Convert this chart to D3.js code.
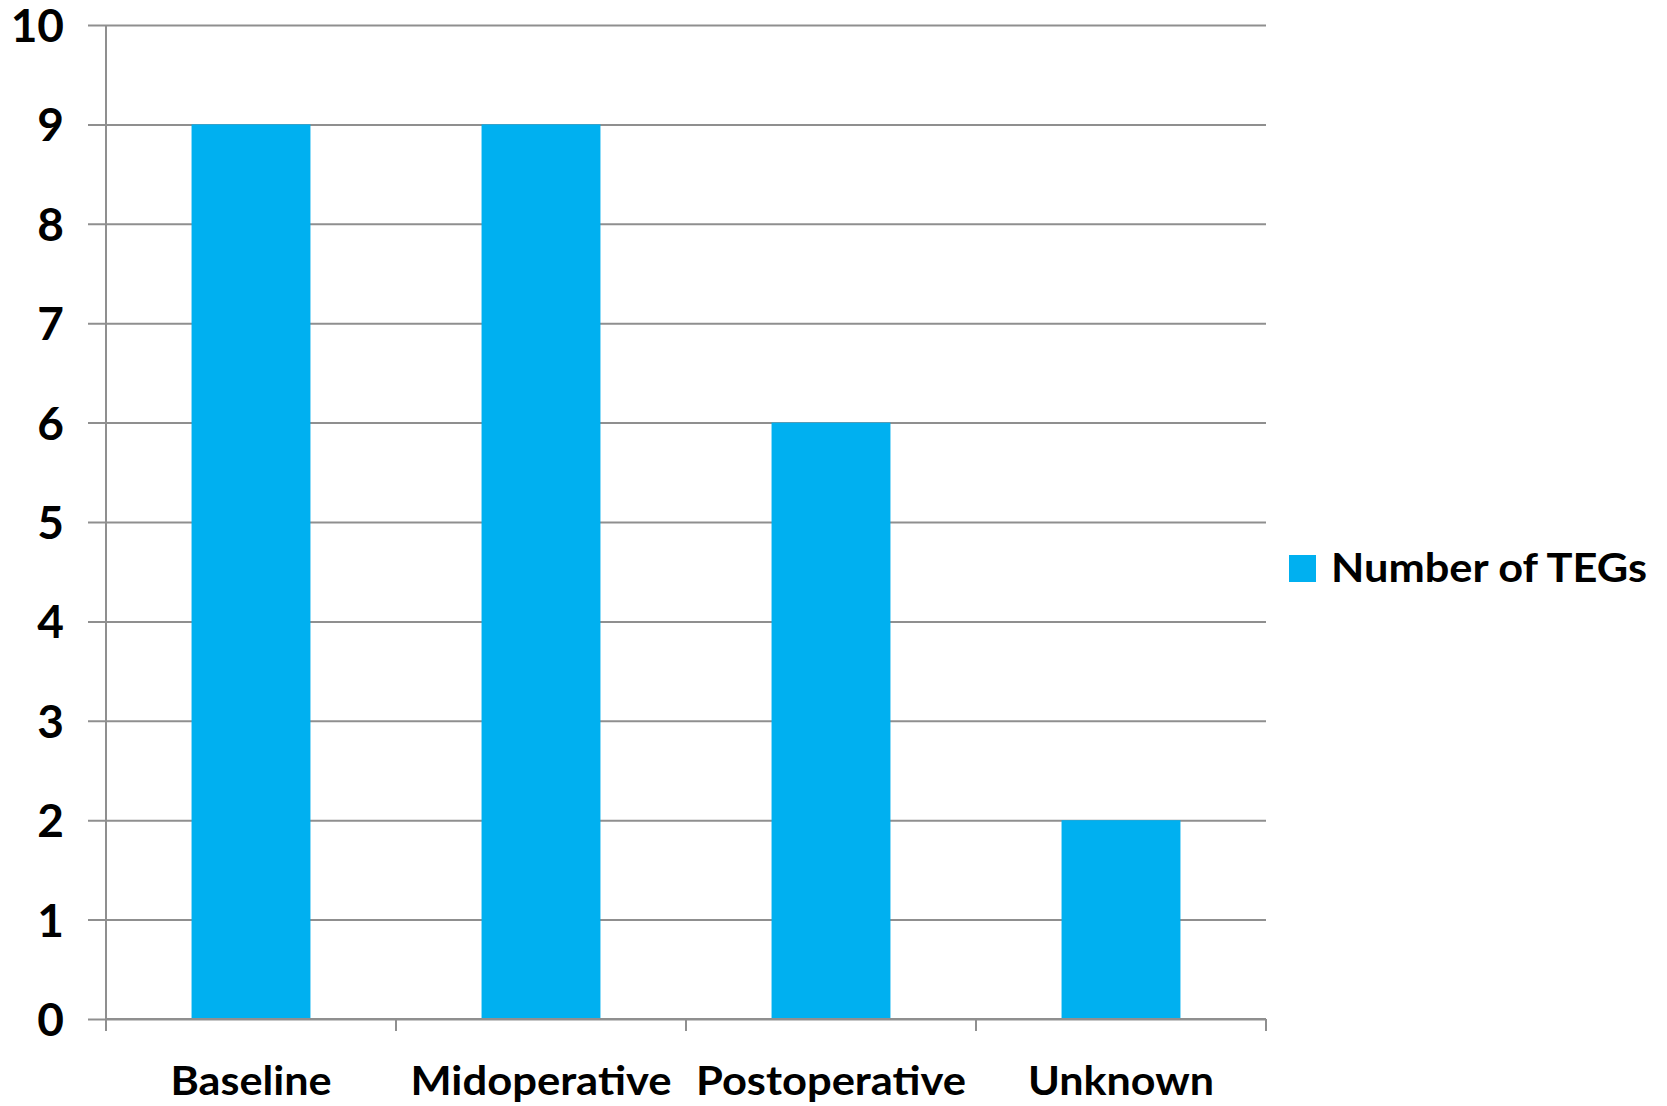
<!DOCTYPE html>
<html>
<head>
<meta charset="utf-8">
<script src="https://cdn.jsdelivr.net/npm/d3@7"></script>
<style>
  html, body { margin: 0; padding: 0; background: #fff; }
  svg { display: block; }
  text { font-family: Lato, "Liberation Sans", sans-serif; font-weight: 700; fill: #000; }
</style>
</head>
<body>
<svg id="chart" width="1667" height="1106"></svg>
<script>
// Number of TEGs per sampling time point
const categories = ["Baseline", "Midoperative", "Postoperative", "Unknown"];
const tegCounts = [9, 9, 6, 2];
const yTicks = [0, 1, 2, 3, 4, 5, 6, 7, 8, 9, 10];
const seriesName = "Number of TEGs";

const svg = d3.select("#chart");
const plotLeft = 106, plotRight = 1266, plotTop = 25, plotBottom = 1019;
const gridColor = "#8f8f8f";
const barColor = "#00b0f0";

const x = d3.scaleBand()
  .domain(categories)
  .range([plotLeft, plotRight])
  .paddingInner(0.59)
  .paddingOuter(0.295);

const y = d3.scaleLinear().domain([0, 10]).range([plotBottom, plotTop]);

// horizontal gridlines with outward ticks on the value axis
const yAxis = d3.axisLeft(y)
  .tickValues(yTicks)
  .tickSize(-(plotRight - plotLeft))
  .tickSizeOuter(0)
  .tickPadding(0)
  .tickFormat(d3.format("d"));

const gy = svg.append("g")
  .attr("transform", `translate(${plotLeft},0)`)
  .call(yAxis);
gy.select(".domain").remove();
gy.selectAll(".tick line")
  .attr("x1", -18)
  .attr("stroke", gridColor)
  .attr("stroke-width", 2);
gy.selectAll(".tick text")
  .attr("x", -42)
  .attr("dy", "0.36em")
  .style("font-size", "46px")
  .style("font-family", "Lato, sans-serif")
  .style("font-weight", 700)
  .attr("fill", "#000");

// bars
svg.append("g")
  .selectAll("rect")
  .data(categories)
  .join("rect")
  .attr("x", d => x(d))
  .attr("width", x.bandwidth())
  .attr("y", (d, i) => y(tegCounts[i]))
  .attr("height", (d, i) => y(0) - y(tegCounts[i]))
  .attr("fill", barColor);

// value axis line
svg.append("line")
  .attr("x1", plotLeft).attr("x2", plotLeft)
  .attr("y1", plotTop).attr("y2", plotBottom + 12)
  .attr("stroke", gridColor).attr("stroke-width", 2);

// category axis with boundary ticks
const boundaries = categories.map(c => x(c) - x.step() * x.paddingOuter()).concat([plotRight]);
const gx = svg.append("g");
gx.append("line")
  .attr("x1", plotLeft).attr("x2", plotRight)
  .attr("y1", plotBottom).attr("y2", plotBottom)
  .attr("stroke", gridColor).attr("stroke-width", 2);
gx.selectAll("line.bt")
  .data(boundaries)
  .join("line")
  .attr("class", "bt")
  .attr("x1", d => d).attr("x2", d => d)
  .attr("y1", plotBottom).attr("y2", plotBottom + 12)
  .attr("stroke", gridColor).attr("stroke-width", 2);

// category labels, widened slightly to the condensed-bold look of the axis font
const labelWidths = [161, 261, 270, 186];
gx.selectAll("text")
  .data(categories)
  .join("text")
  .attr("x", d => x(d) + x.bandwidth() / 2)
  .attr("y", 1095)
  .attr("text-anchor", "middle")
  .attr("textLength", (d, i) => labelWidths[i])
  .attr("lengthAdjust", "spacingAndGlyphs")
  .style("font-size", "41px")
  .text(d => d);

// legend
const lg = svg.append("g");
lg.append("rect")
  .attr("x", 1289).attr("y", 555)
  .attr("width", 27).attr("height", 27)
  .attr("fill", barColor);
lg.append("text")
  .attr("x", 1331).attr("y", 582)
  .attr("textLength", 316)
  .attr("lengthAdjust", "spacingAndGlyphs")
  .style("font-size", "41px")
  .text(seriesName);
</script>
</body>
</html>
